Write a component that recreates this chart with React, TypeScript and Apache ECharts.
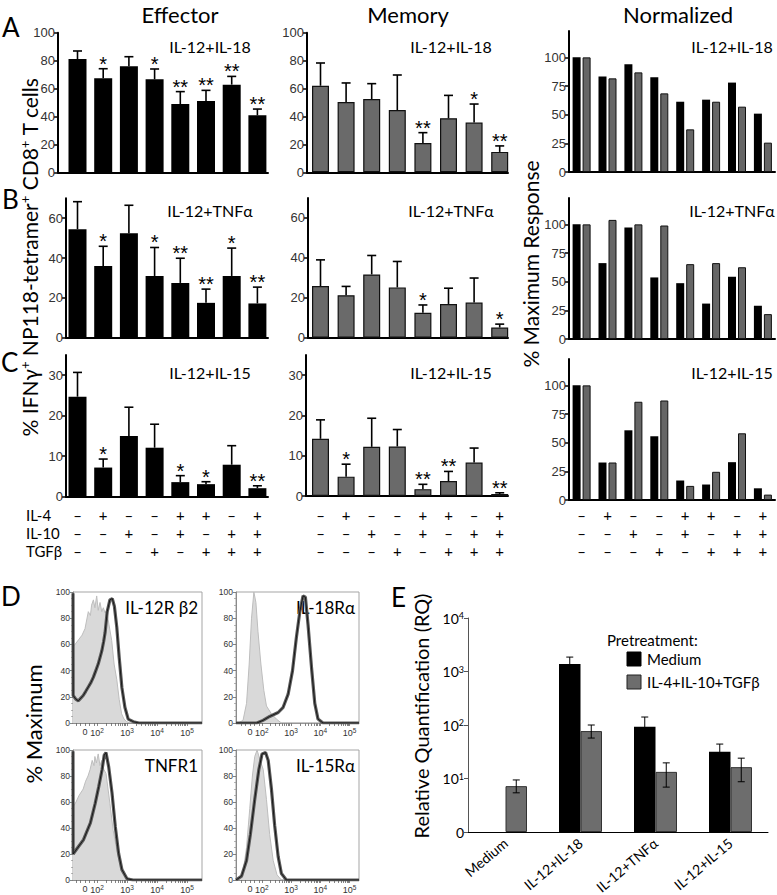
import React, { useEffect, useRef } from 'react';
import * as echarts from 'echarts';

// ------------------------------------------------------------------ data
const conditionPositions = [1, 2, 3, 4, 5, 6, 7, 8];
const il4Signs = ['–', '+', '–', '–', '+', '+', '–', '+'];
const il10Signs = ['–', '–', '+', '–', '+', '–', '+', '+'];
const tgfbSigns = ['–', '–', '–', '+', '–', '+', '+', '+'];
const tableRowLabels = ['IL-4', 'IL-10', 'TGFβ'];
const columnTitles = ['Effector', 'Memory', 'Normalized'];
const stimulusNames = ['IL-12+IL-18', 'IL-12+TNFα', 'IL-12+IL-15'];

const ticksIL18 = [0, 20, 40, 60, 80, 100];
const ticksTNF = [0, 20, 40, 60];
const ticksIL15 = [0, 10, 20, 30];
const ticksNorm = [0, 25, 50, 75, 100];

const effectorIL18 = [81.1, 67.3, 75.9, 66.6, 48.9, 51.1, 62.8, 40.8];
const effectorIL18Sem = [5.8, 6.9, 6.9, 7.4, 8.9, 7.6, 5.9, 4.5];
const effectorIL18Stars = ['', '*', '', '*', '**', '**', '**', '**'];
const memoryIL18 = [62, 50.4, 52.5, 44.6, 21, 38.7, 35.6, 14.6];
const memoryIL18Sem = [16.3, 13.6, 11, 25.1, 7.4, 16.4, 13.3, 4.3];
const memoryIL18Stars = ['', '', '', '', '**', '', '*', '**'];
const normEffIL18 = [100, 83.4, 93.9, 82.6, 61.3, 63.1, 78, 50.9];
const normMemIL18 = [100, 81.7, 86.9, 68.6, 37.2, 61.3, 57, 25.6];

const effectorTNF = [54.5, 36, 52.5, 31, 27.5, 17.5, 31, 17.2];
const effectorTNFSem = [13.8, 9.9, 14, 14.3, 12.4, 6.9, 14, 8.2];
const effectorTNFStars = ['', '*', '', '*', '**', '**', '*', '**'];
const memoryTNF = [25.9, 21.3, 31.7, 25.2, 12.5, 16.9, 17.6, 5.1];
const memoryTNFSem = [13.1, 4.4, 9.5, 13, 3.9, 7.9, 12.3, 1.7];
const memoryTNFStars = ['', '', '', '', '*', '', '', '*'];
const normEffTNF = [100, 66.2, 97.3, 53.7, 48.7, 30.9, 54.3, 29];
const normMemTNF = [100, 103.9, 100, 99, 65.3, 66.2, 62.6, 21.7];

const effectorIL15 = [24.7, 7.2, 15, 12.1, 3.6, 3.1, 7.9, 2.1];
const effectorIL15Sem = [6, 2.1, 7.1, 5.8, 1.6, 0.6, 4.7, 0.6];
const effectorIL15Stars = ['', '*', '', '', '*', '*', '', '**'];
const memoryIL15 = [14.2, 4.8, 12.2, 12.3, 1.7, 3.7, 8.3, 0.5];
const memoryIL15Sem = [4.7, 3.1, 7.1, 4.2, 1.2, 2.4, 3.6, 0.3];
const memoryIL15Stars = ['', '*', '', '', '**', '**', '', '**'];
const normEffIL15 = [100, 32.7, 60.8, 55.6, 17, 13.5, 33, 10.2];
const normMemIL15 = [100, 32.7, 85.7, 86.8, 12.3, 24.6, 58.2, 4.7];

// Flow histograms: [decade position, % of max]
const histLabels = ['IL-12R β2', 'IL-18Rα', 'TNFR1', 'IL-15Rα'];
const histTickLabels = ['0', '2', '3', '4', '5'];
const histTickPositions = [1.6, 2, 3, 4, 5];
const il12rb2Isotype: [number, number][] = [[1.2, 58], [1.3, 61], [1.4, 64], [1.5, 67], [1.6, 72], [1.71, 85], [1.78, 82], [1.82, 90], [1.88, 94], [1.93, 88], [1.99, 97], [2.04, 86], [2.1, 92], [2.16, 85], [2.21, 88], [2.27, 84], [2.32, 86], [2.4, 75], [2.49, 63], [2.57, 45], [2.66, 33], [2.74, 18], [2.82, 7], [2.9, 3], [2.99, 1], [3.1, 0], [5.5, 0]];
const il12rb2Stained: [number, number][] = [[1.2, 99], [1.205, 21], [1.3, 18], [1.38, 17], [1.46, 19], [1.54, 21], [1.62, 24], [1.71, 27.5], [1.8, 31], [1.88, 35], [1.96, 40], [2.04, 45], [2.1, 50], [2.16, 55], [2.22, 62], [2.27, 69], [2.34, 85], [2.43, 94], [2.51, 95], [2.58, 89], [2.66, 73], [2.74, 50], [2.83, 27], [2.93, 12], [3.04, 3], [3.21, 1], [3.4, 0], [5.5, 0]];
const il18raIsotype: [number, number][] = [[1.12, 0], [1.19, 0], [1.36, 2], [1.48, 15], [1.57, 45], [1.65, 80], [1.73, 100], [1.8, 92], [1.87, 70], [1.97, 45], [2.07, 25], [2.16, 13], [2.33, 7], [2.5, 3], [2.67, 0], [5.32, 0]];
const il18raStained: [number, number][] = [[1.12, 0], [1.83, 0], [2.04, 2], [2.27, 5], [2.56, 8], [2.73, 12], [2.9, 22], [3.05, 40], [3.18, 65], [3.3, 85], [3.41, 97], [3.49, 96], [3.58, 75], [3.7, 42], [3.81, 15], [3.92, 3], [4.09, 0], [5.32, 0]];
const tnfr1Isotype: [number, number][] = [[1.2, 56], [1.3, 60], [1.4, 65], [1.54, 70], [1.62, 76], [1.7, 80], [1.77, 85], [1.84, 92], [1.9, 88], [1.93, 95], [1.98, 90], [2.04, 97], [2.1, 88], [2.16, 92], [2.23, 85], [2.3, 82], [2.43, 59], [2.54, 38], [2.66, 23], [2.77, 12], [2.9, 4], [3.04, 0], [5.5, 0]];
const tnfr1Stained: [number, number][] = [[1.2, 99], [1.205, 20], [1.33, 24], [1.55, 31], [1.78, 44], [1.94, 59], [2.06, 72], [2.17, 85], [2.24, 96], [2.3, 98], [2.39, 87], [2.5, 67], [2.61, 41], [2.72, 20.5], [2.83, 8], [3, 1], [3.2, 0], [5.5, 0]];
const il15raIsotype: [number, number][] = [[1.12, 0], [1.19, 0], [1.34, 3], [1.48, 25], [1.59, 55], [1.68, 80], [1.76, 95], [1.84, 100], [1.93, 93], [2.05, 85], [2.16, 62], [2.27, 35], [2.39, 15], [2.52, 4], [2.67, 0], [5.32, 0]];
const il15raStained: [number, number][] = [[1.12, 0], [1.14, 0], [1.31, 3], [1.48, 15], [1.61, 35], [1.76, 62], [1.9, 85], [2.01, 97], [2.13, 98], [2.22, 92], [2.33, 70], [2.44, 42], [2.56, 18], [2.67, 5], [2.84, 0], [5.32, 0]];

// Panel E (RQ, log scale)
const eCategories = ['Medium', 'IL-12+IL-18', 'IL-12+TNFα', 'IL-12+IL-15'];
const eLegendNames = ['Medium', 'IL-4+IL-10+TGFβ'];
const eMediumPre = [null, 1380, 93, 31.6];
const eMediumPreHigh = [null, 1860, 141, 44];
const eMediumPreLow = [null, 900, 45, 19];
const eTreatedPre = [7.2, 77, 13.3, 16.3];
const eTreatedPreHigh = [9.4, 100, 19.6, 24];
const eTreatedPreLow = [5.4, 57, 6.9, 8.7];
const eYTicks = [1, 10, 100, 1000, 10000];

// ------------------------------------------------------------------ option
const ARIAL = '"Liberation Sans", Arial, sans-serif';
const CAL = 'Lato, "Open Sans", sans-serif';

function buildOption() {
  const grid: any[] = [];
  const xAxis: any[] = [];
  const yAxis: any[] = [];
  const series: any[] = [];
  const graphic: any[] = [];

  const txt = (text: string, x: number, y: number, size: number, align = 'center') => {
    graphic.push({
      type: 'text', x, y,
      style: {
        text, fill: '#000', fontSize: size, fontFamily: CAL,
        align, textAlign: align, verticalAlign: 'middle', textVerticalAlign: 'middle',
      },
    });
  };

  const barPanel = (p: any) => {
    grid.push({ left: p.left, top: p.top, width: p.width, height: p.height, outerBoundsMode: 'none', containLabel: false });
    const gi = grid.length - 1;
    xAxis.push({
      gridIndex: gi, type: 'value', min: p.xMin, max: p.xMax,
      splitLine: { show: false }, axisTick: { show: false },
      axisLine: { show: true, onZero: false, lineStyle: { color: '#000', width: 2 } },
      axisLabel: p.table
        ? {
            show: true, customValues: conditionPositions, margin: p.tableMargin,
            formatter: (v: number) => {
              const i = Math.round(v) - 1;
              return [il4Signs[i], il10Signs[i], tgfbSigns[i]].join('\n');
            },
            lineHeight: 18, fontSize: 15, fontFamily: CAL, color: '#000',
          }
        : { show: false },
    });
    yAxis.push({
      gridIndex: gi, type: 'value', min: 0, max: p.yMax, splitLine: { show: false },
      axisLine: { show: true, lineStyle: { color: '#000', width: 2 } },
      axisTick: { show: true, length: 4, customValues: p.ticks, lineStyle: { color: '#000', width: 1.5 } },
      axisLabel: { customValues: p.ticks, color: '#333', fontSize: 13, fontFamily: ARIAL, margin: 3 },
    });
    return gi;
  };

  const errorSeries = (gi: number, values: number[], sems: number[], stars: string[], capHalf: number) => ({
    type: 'custom', xAxisIndex: gi, yAxisIndex: gi, z: 3, silent: true,
    data: values.map((v, i) => [conditionPositions[i], v, v + sems[i]]),
    encode: { x: 0, y: [1, 2] },
    renderItem: (params: any, api: any) => {
      const x = api.value(0);
      const a = api.coord([x, api.value(1)]);
      const b = api.coord([x, api.value(2)]);
      const children: any[] = [
        { type: 'line', shape: { x1: a[0], y1: a[1], x2: b[0], y2: b[1] }, style: { stroke: '#000', lineWidth: 1.6 } },
        { type: 'line', shape: { x1: b[0] - capHalf, y1: b[1], x2: b[0] + capHalf, y2: b[1] }, style: { stroke: '#000', lineWidth: 1.6 } },
      ];
      const star = stars[params.dataIndex];
      if (star) {
        children.push({
          type: 'text', x: b[0], y: b[1] + 5,
          style: { text: star, fill: '#000', fontSize: 20, fontFamily: ARIAL, align: 'center', textAlign: 'center', verticalAlign: 'bottom', textVerticalAlign: 'bottom' },
        });
      }
      return { type: 'group', children };
    },
  });

  const singleBars = (gi: number, values: number[], color: string, width: number, border: boolean) => ({
    type: 'bar', xAxisIndex: gi, yAxisIndex: gi, barWidth: width,
    data: values.map((v, i) => [conditionPositions[i], v]),
    itemStyle: { color, borderColor: border ? '#111' : color, borderWidth: border ? 1.2 : 0 },
  });

  const rows = [
    {
      eff: effectorIL18, effSem: effectorIL18Sem, effStars: effectorIL18Stars,
      mem: memoryIL18, memSem: memoryIL18Sem, memStars: memoryIL18Stars,
      nE: normEffIL18, nM: normMemIL18, ticks: ticksIL18, yMax: 100,
      effLeft: 58, effTop: 32.7, effH: 139.6, memLeft: 307, memTop: 32.7, memH: 139.6, normTop: 31, normH: 141, label: stimulusNames[0], labelY: 46,
    },
    {
      eff: effectorTNF, effSem: effectorTNFSem, effStars: effectorTNFStars,
      mem: memoryTNF, memSem: memoryTNFSem, memStars: memoryTNFStars,
      nE: normEffTNF, nM: normMemTNF, ticks: ticksTNF, yMax: 70,
      effLeft: 66, effTop: 198.3, effH: 139.4, memLeft: 308, memTop: 198, memH: 139.7, normTop: 198, normH: 141, label: stimulusNames[1], labelY: 210,
    },
    {
      eff: effectorIL15, effSem: effectorIL15Sem, effStars: effectorIL15Stars,
      mem: memoryIL15, memSem: memoryIL15Sem, memStars: memoryIL15Stars,
      nE: normEffIL15, nM: normMemIL15, ticks: ticksIL15, yMax: 35,
      effLeft: 66, effTop: 355, effH: 141.7, memLeft: 306, memTop: 355, memH: 141, normTop: 359, normH: 141, label: stimulusNames[2], labelY: 372,
    },
  ];

  rows.forEach((r, ri) => {
    const isTable = ri === 2;
    const effFirst = 77.5, effStep = 25.7, effEnd = 268;
    const ge = barPanel({
      left: r.effLeft, top: r.effTop, width: effEnd - r.effLeft, height: r.effH,
      xMin: 1 - (effFirst - r.effLeft) / effStep, xMax: 8 + (effEnd - (effFirst + 7 * effStep)) / effStep,
      yMax: r.yMax, ticks: r.ticks, table: isTable, tableMargin: 9,
    });
    series.push(singleBars(ge, r.eff, '#000', 18, false));
    series.push(errorSeries(ge, r.eff, r.effSem, r.effStars, 4.5));
    const memFirst = 320.5, memStep = 25.6, memEnd = 508;
    const gm = barPanel({
      left: r.memLeft, top: r.memTop, width: memEnd - r.memLeft, height: r.memH,
      xMin: 1 - (memFirst - r.memLeft) / memStep, xMax: 8 + (memEnd - (memFirst + 7 * memStep)) / memStep,
      yMax: r.yMax, ticks: r.ticks, table: isTable, tableMargin: 10,
    });
    series.push(singleBars(gm, r.mem, '#6a6a6a', 17, true));
    series.push(errorSeries(gm, r.mem, r.memSem, r.memStars, 4.5));
    const nLeft = 569, nFirst = 581.6, nStep = 25.9, nEnd = 775;
    const gn = barPanel({
      left: nLeft, top: r.normTop, width: nEnd - nLeft, height: r.normH,
      xMin: 1 - (nFirst - nLeft) / nStep, xMax: 8 + (nEnd - (nFirst + 7 * nStep)) / nStep,
      yMax: 123, ticks: ticksNorm, table: isTable, tableMargin: 6,
    });
    series.push({
      type: 'bar', xAxisIndex: gn, yAxisIndex: gn, barWidth: 8, barGap: '25%',
      data: r.nE.map((v, i) => [conditionPositions[i], v]), itemStyle: { color: '#000' },
    });
    series.push({
      type: 'bar', xAxisIndex: gn, yAxisIndex: gn, barWidth: 8, barGap: '25%',
      data: r.nM.map((v, i) => [conditionPositions[i], v]), itemStyle: { color: '#666', borderColor: '#111', borderWidth: 1 },
    });
    txt(r.label, 210, r.labelY, 16);
    txt(r.label, 451, r.labelY, 16);
    txt(r.label, 732, r.labelY, 16);
  });

  // ---- histograms (D)
  const hist = [
    { left: 73, top: 592, width: 129, height: 131, xMin: 1.2, xMax: 5.5, iso: il12rb2Isotype, st: il12rb2Stained, label: histLabels[0] },
    { left: 236, top: 592, width: 123, height: 131, xMin: 1.12, xMax: 5.32, iso: il18raIsotype, st: il18raStained, label: histLabels[1] },
    { left: 73, top: 750, width: 129, height: 130, xMin: 1.2, xMax: 5.5, iso: tnfr1Isotype, st: tnfr1Stained, label: histLabels[2] },
    { left: 236, top: 750, width: 123, height: 130, xMin: 1.12, xMax: 5.32, iso: il15raIsotype, st: il15raStained, label: histLabels[3] },
  ];
  const minorTicks: number[] = [];
  [2, 3, 4].forEach((d) => { for (let k = 1; k <= 9; k++) minorTicks.push(d + Math.log10(k)); });
  minorTicks.push(5, 1.3, 1.45, 1.6, 1.75, 1.9);
  hist.forEach((h) => {
    grid.push({ left: h.left, top: h.top, width: h.width, height: h.height, show: true, borderColor: '#a5a5a5', borderWidth: 1, backgroundColor: '#fff', outerBoundsMode: 'none', containLabel: false });
    const gi = grid.length - 1;
    xAxis.push({
      gridIndex: gi, type: 'value', min: h.xMin, max: h.xMax, splitLine: { show: false },
      axisLine: { show: true, onZero: false, lineStyle: { color: '#8a8a8a', width: 1 } },
      axisTick: { show: true, length: 3, customValues: minorTicks, lineStyle: { color: '#666', width: 0.8 } },
      axisLabel: {
        customValues: histTickPositions, margin: 4, fontSize: 9, fontFamily: ARIAL, color: '#333',
        formatter: (v: number) => {
          const i = histTickPositions.findIndex((t) => Math.abs(t - v) < 1e-6);
          return i <= 0 ? histTickLabels[0] : '10{s|' + histTickLabels[i] + '}';
        },
        rich: { s: { fontSize: 6.5, fontFamily: ARIAL, color: '#333', verticalAlign: 'top', padding: [0, 0, 4, 0] } },
      },
    });
    yAxis.push({
      gridIndex: gi, type: 'value', min: 0, max: 100, interval: 20, splitLine: { show: false },
      axisLine: { show: true, lineStyle: { color: '#8a8a8a', width: 1 } },
      axisTick: { show: true, length: 3, lineStyle: { color: '#666', width: 0.8 } },
      minorTick: { show: true, splitNumber: 4, length: 2, lineStyle: { color: '#888', width: 0.6 } },
      axisLabel: { margin: 3, fontSize: 8.5, fontFamily: ARIAL, color: '#333' },
    });
    series.push({
      type: 'line', xAxisIndex: gi, yAxisIndex: gi, data: h.iso, showSymbol: false, symbol: 'none',
      lineStyle: { color: '#bdbdbd', width: 1 }, areaStyle: { color: '#d9d9d9', opacity: 1 }, z: 2,
    });
    series.push({
      type: 'line', xAxisIndex: gi, yAxisIndex: gi, data: h.st, showSymbol: false, symbol: 'none',
      lineStyle: { color: '#5c5c5c', width: 3.2 }, z: 3,
    });
    series.push({
      type: 'line', xAxisIndex: gi, yAxisIndex: gi, data: h.st, showSymbol: false, symbol: 'none',
      lineStyle: { color: '#111', width: 0.9 }, z: 4,
    });
    txt(h.label, h.left + h.width - 4, h.top + 15, 17, 'right');
  });

  // ---- panel E
  grid.push({ left: 468, top: 618, width: 300, height: 214, outerBoundsMode: 'none', containLabel: false });
  const eg = grid.length - 1;
  xAxis.push({
    gridIndex: eg, type: 'category', data: eCategories,
    axisLine: { show: true, lineStyle: { color: '#000', width: 1 } }, axisTick: { show: false },
    axisLabel: { interval: 0, rotate: 40, margin: 9, fontSize: 14, fontFamily: CAL, color: '#000' },
  });
  yAxis.push({
    gridIndex: eg, type: 'log', logBase: 10, min: 1, max: 10000, splitLine: { show: false },
    axisLine: { show: true, lineStyle: { color: '#555', width: 1 } },
    axisTick: { show: true, length: 4, customValues: eYTicks, lineStyle: { color: '#555' } },
    axisLabel: {
      customValues: eYTicks, margin: 4, fontSize: 14, fontFamily: CAL, color: '#000',
      formatter: (v: number) => (v <= 1 ? '0' : '10{s|' + Math.round(Math.log10(v)) + '}'),
      rich: { s: { fontSize: 9, fontFamily: CAL, color: '#000', verticalAlign: 'top', padding: [0, 0, 5, 0] } },
    },
  });
  series.push({
    type: 'bar', name: eLegendNames[0], xAxisIndex: eg, yAxisIndex: eg, barWidth: 21.5, barGap: '0%',
    data: eMediumPre.map((v) => (v == null ? '-' : v)), itemStyle: { color: '#000' },
  });
  series.push({
    type: 'bar', name: eLegendNames[1], xAxisIndex: eg, yAxisIndex: eg, barWidth: 21.5, barGap: '0%',
    data: eTreatedPre, itemStyle: { color: '#6d6d6d', borderColor: '#333', borderWidth: 1 },
  });
  const eErr = (lows: (number | null)[], highs: (number | null)[], offset: number) => ({
    type: 'custom', xAxisIndex: eg, yAxisIndex: eg, z: 5, silent: true,
    data: lows.map((l, i) => (l == null ? [i, '-', '-'] : [i, l, highs[i]])),
    encode: { x: 0, y: [1, 2] },
    renderItem: (params: any, api: any) => {
      const lo = api.value(1), hi = api.value(2);
      if (isNaN(lo) || isNaN(hi)) return { type: 'group', children: [] };
      const a = api.coord([api.value(0), lo]);
      const b = api.coord([api.value(0), hi]);
      const x = a[0] + offset;
      return {
        type: 'group', children: [
          { type: 'line', shape: { x1: x, y1: a[1], x2: x, y2: b[1] }, style: { stroke: '#000', lineWidth: 1 } },
          { type: 'line', shape: { x1: x - 3.5, y1: b[1], x2: x + 3.5, y2: b[1] }, style: { stroke: '#000', lineWidth: 1 } },
          { type: 'line', shape: { x1: x - 3.5, y1: a[1], x2: x + 3.5, y2: a[1] }, style: { stroke: '#000', lineWidth: 1 } },
        ],
      };
    },
  });
  series.push(eErr(eMediumPreLow, eMediumPreHigh, -10.75));
  series.push(eErr(eTreatedPreLow, eTreatedPreHigh, 10.75));

  // legend E
  txt('Pretreatment:', 607, 640, 15, 'left');
  graphic.push({ type: 'rect', shape: { x: 627, y: 652, width: 14, height: 14 }, style: { fill: '#000', stroke: '#000' } });
  graphic.push({ type: 'rect', shape: { x: 627, y: 675, width: 14, height: 14 }, style: { fill: '#6d6d6d', stroke: '#222', lineWidth: 1 } });
  txt(eLegendNames[0], 647, 659, 15, 'left');
  txt(eLegendNames[1], 647, 682, 15, 'left');

  // titles, panel letters, axis titles
  txt(columnTitles[0], 180, 14, 22);
  txt(columnTitles[1], 408, 14, 22);
  txt(columnTitles[2], 678, 14, 22);
  txt('A', 2, 27, 26, 'left');
  txt('B', 2, 199, 26, 'left');
  txt('C', 1, 362, 26, 'left');
  txt('D', 1, 596, 26, 'left');
  txt('E', 391, 597, 26, 'left');
  tableRowLabels.forEach((l, i) => txt(l, 26, 515 + i * 18, 15, 'left'));

  const rotated = (text: string, x: number, y: number, size: number, rich?: any) => {
    graphic.push({
      type: 'text', x, y, rotation: Math.PI / 2,
      style: {
        text, fill: '#000', fontSize: size, fontFamily: CAL,
        align: 'center', textAlign: 'center', verticalAlign: 'middle', textVerticalAlign: 'middle', rich,
      },
    });
  };
  rotated('% IFNγ{s|+} NP118-tetramer{s|+} CD8{s|+} T cells', 29, 257, 21,
    { s: { fontSize: 13, fontFamily: CAL, fill: '#000', verticalAlign: 'top', padding: [0, 0, 6, 0] } });
  rotated('% Maximum Response', 530, 264, 21);
  rotated('% Maximum', 33, 724, 22);
  rotated('Relative Quantification (RQ)', 421, 716, 20);

  return {
    animation: false,
    backgroundColor: '#fff',
    textStyle: { fontFamily: CAL },
    grid, xAxis, yAxis, series, graphic,
  };
}

export default function App() {
  const ref = useRef<HTMLDivElement>(null);
  useEffect(() => {
    if (!ref.current) return;
    const chart = echarts.init(ref.current, undefined, { renderer: 'svg' });
    chart.setOption(buildOption() as any);
    return () => chart.dispose();
  }, []);
  return <div ref={ref} style={{ position: 'fixed', left: 0, top: 0, width: 777, height: 895, background: '#fff' }} />;
}
